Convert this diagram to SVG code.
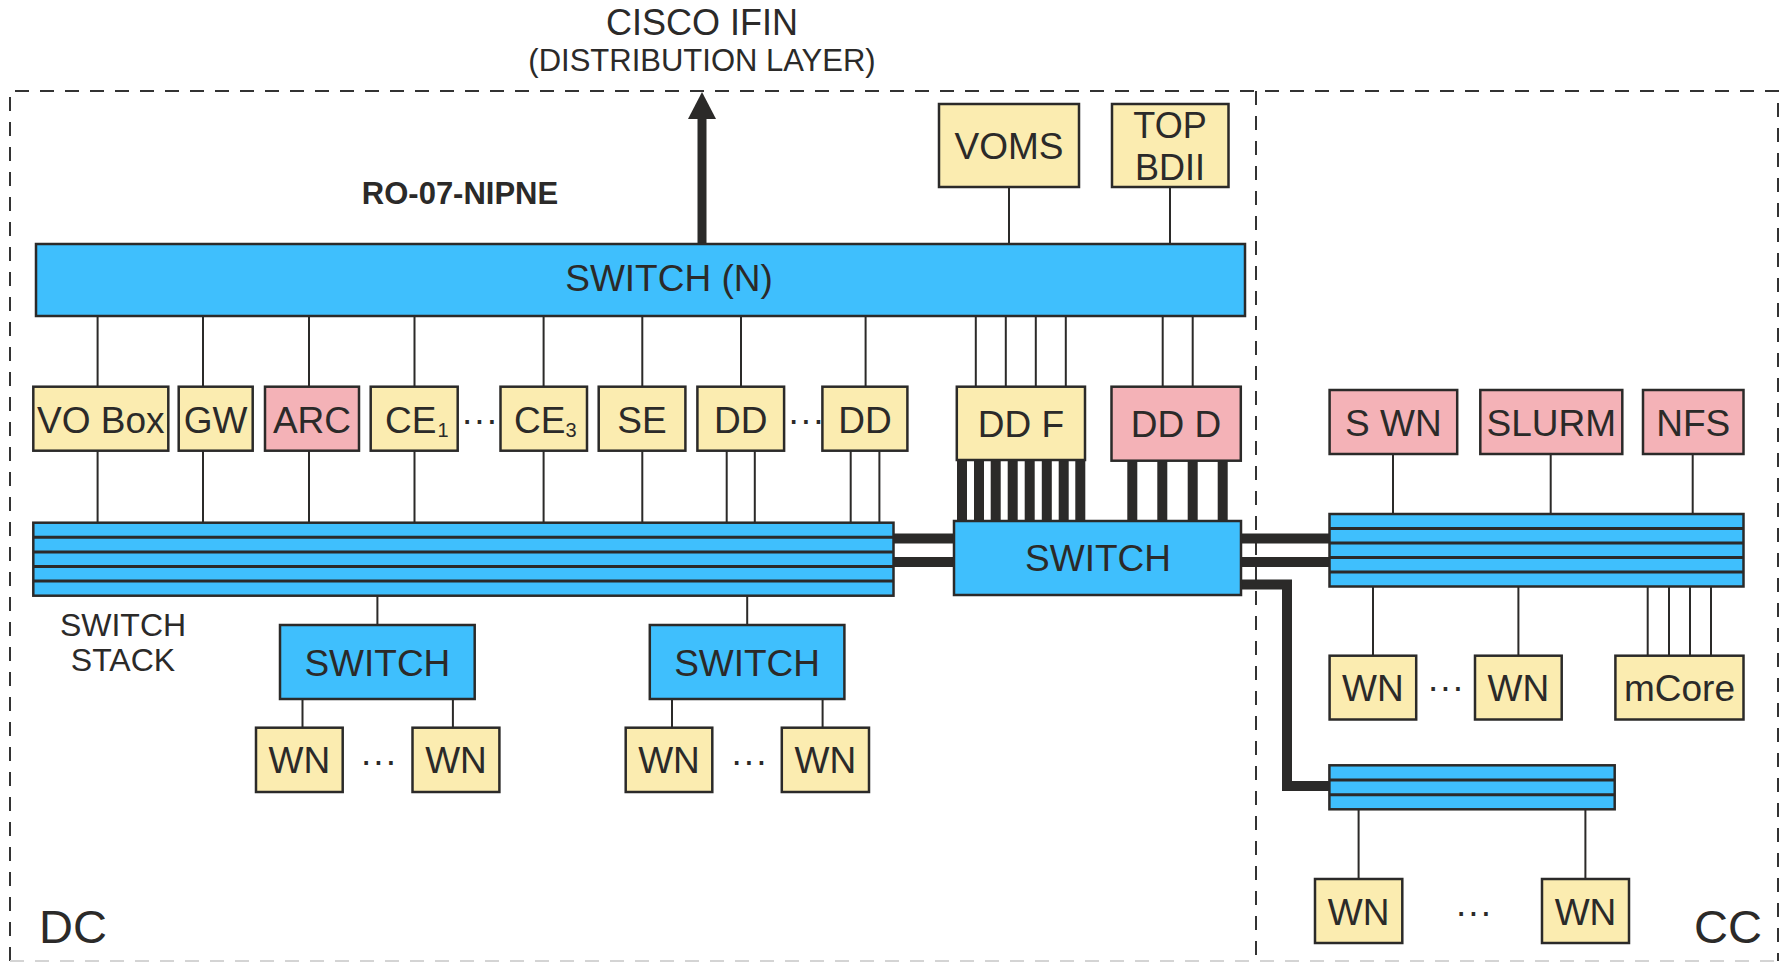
<svg xmlns="http://www.w3.org/2000/svg" width="1785" height="962" viewBox="0 0 1785 962">
<style>
text{font-family:"Liberation Sans",Arial,sans-serif;fill:#2b2a29}
.t{font-size:37px;text-anchor:middle}
.y{fill:#fbecb0;stroke:#2b2a29;stroke-width:2.5}
.p{fill:#f4b2b7;stroke:#2b2a29;stroke-width:2.5}
.b{fill:#3fbffd;stroke:#2b2a29;stroke-width:2.5}
.ln{stroke:#2b2a29;stroke-width:2;fill:none}
.tk{stroke:#2b2a29;stroke-width:10;fill:none}
.sep{stroke:#2b2a29;stroke-width:3}
.dash{stroke:#333;stroke-width:2;stroke-dasharray:14 11;fill:none}
.dots{font-size:37px;text-anchor:middle}
</style>
<rect width="1785" height="962" fill="#fff"/>
<g id="frame">
<path class="dash" d="M10 961 V91 H1778 V961"/>
<path d="M10 961 H1778" stroke="#d4d4d4" stroke-width="2" stroke-dasharray="14 11"/>
<path class="dash" d="M1256 91 V961"/>
</g>
<g id="labels">
<text x="702" y="35" style="font-size:36px;text-anchor:middle">CISCO IFIN</text>
<text x="702" y="71" style="font-size:31px;text-anchor:middle">(DISTRIBUTION LAYER)</text>
<text x="460" y="204" style="font-size:31px;text-anchor:middle;font-weight:bold">RO-07-NIPNE</text>
<text x="123" y="636" style="font-size:32px;text-anchor:middle">SWITCH</text>
<text x="123" y="671" style="font-size:32px;text-anchor:middle">STACK</text>
<text x="39" y="943" style="font-size:47px">DC</text>
<text x="1762" y="943" style="font-size:47px;text-anchor:end">CC</text>
</g>
<g id="connectors">
<path d="M702 244 V116" stroke="#2b2a29" stroke-width="9"/>
<polygon points="702,92 688,119 716,119" fill="#2b2a29"/>
<path class="ln" d="M1009 187 V244 M1170 187 V244"/>
<path class="ln" d="M97.6 316 V387 M203 316 V387 M309 316 V387 M414.5 316 V387 M543.6 316 V387 M642.3 316 V387 M741 316 V387 M865.6 316 V387"/>
<path class="ln" d="M97.6 451 V523 M203 451 V523 M309 451 V523 M414.5 451 V523 M543.6 451 V523 M642.3 451 V523 M726.7 451 V523 M754.8 451 V523 M850.7 451 V523 M879.4 451 V523"/>
<path class="ln" d="M975.8 316 V387 M1005.8 316 V387 M1035.8 316 V387 M1065.8 316 V387 M1162.7 316 V387 M1192.7 316 V387"/>
<path class="tk" d="M962 460 V521 M979 460 V521 M995.7 460 V521 M1012.7 460 V521 M1029.7 460 V521 M1046.8 460 V521 M1063.7 460 V521 M1080.3 460 V521"/>
<path class="tk" d="M1132.3 460 V521 M1162.3 460 V521 M1192.7 460 V521 M1222.7 460 V521"/>
<path class="tk" d="M893 538.5 H955 M893 562 H955 M1241 538.5 H1330 M1241 562 H1330"/>
<path class="tk" d="M1241 584.5 H1287 V786 H1330"/>
<path class="ln" d="M377.4 596 V625 M747.2 596 V625"/>
<path class="ln" d="M302.5 699 V728 M452.9 699 V728 M672 699 V728 M822.6 699 V728"/>
<path class="ln" d="M1393 454 V514 M1550.7 454 V514 M1692.7 454 V514"/>
<path class="ln" d="M1373 586.5 V656 M1518.4 586.5 V656 M1647.7 586.5 V656 M1669 586.5 V656 M1690 586.5 V656 M1711 586.5 V656"/>
<path class="ln" d="M1358.6 809.3 V879 M1585.4 809.3 V879"/>
</g>
<g id="switch-n"><rect class="b" x="36" y="244" width="1209" height="72"/><text class="t" x="669" y="291">SWITCH (N)</text></g>
<g id="voms"><rect class="y" x="939" y="104" width="140" height="83"/><text class="t" x="1009" y="158.5">VOMS</text></g>
<g id="topbdii"><rect class="y" x="1112" y="104" width="116.5" height="83"/><text class="t" x="1170" y="138" style="font-size:36px">TOP</text><text class="t" x="1170" y="180" style="font-size:36px">BDII</text></g>
<g id="vobox"><rect class="y" x="33.3" y="386.7" width="135" height="64"/><text class="t" x="100.8" y="432.5">VO Box</text></g>
<g id="gw"><rect class="y" x="178.7" y="386.7" width="74" height="64"/><text class="t" x="215.7" y="432.5">GW</text></g>
<g id="arc"><rect class="p" x="265" y="386.7" width="94" height="64"/><text class="t" x="312" y="432.5">ARC</text></g>
<g id="ce1"><rect class="y" x="370.7" y="386.7" width="87" height="64"/><text x="385" y="432.5" style="font-size:37px">CE</text><text x="437.5" y="436.5" style="font-size:20px">1</text></g>
<text class="dots" x="479.5" y="432">···</text>
<g id="ce3"><rect class="y" x="500.5" y="386.7" width="86.5" height="64"/><text x="514" y="432.5" style="font-size:37px">CE</text><text x="565.5" y="436.5" style="font-size:20px">3</text></g>
<g id="se"><rect class="y" x="598.7" y="386.7" width="86.7" height="64"/><text class="t" x="642" y="432.5">SE</text></g>
<g id="dd1"><rect class="y" x="697.4" y="386.7" width="86.7" height="64"/><text class="t" x="740.8" y="432.5">DD</text></g>
<text class="dots" x="806" y="432">···</text>
<g id="dd2"><rect class="y" x="822.4" y="386.7" width="85" height="64"/><text class="t" x="865" y="432.5">DD</text></g>
<g id="ddf"><rect class="y" x="956.8" y="386.7" width="128.2" height="73.3"/><text class="t" x="1021" y="436.7">DD F</text></g>
<g id="ddd"><rect class="p" x="1111.5" y="386.7" width="129.3" height="74"/><text class="t" x="1176" y="436.7">DD D</text></g>
<g id="switch-stack-dc"><rect class="b" x="33.3" y="522.7" width="860.2" height="73"/><path class="sep" d="M33.3 537.3 H893.5 M33.3 551.9 H893.5 M33.3 566.5 H893.5 M33.3 581.1 H893.5"/></g>
<g id="switch-center"><rect class="b" x="954" y="521" width="287" height="74"/><text class="t" x="1098" y="570.7">SWITCH</text></g>
<g id="switch-a"><rect class="b" x="280" y="625" width="194.7" height="74"/><text class="t" x="377.4" y="676">SWITCH</text></g>
<g id="switch-b"><rect class="b" x="649.8" y="625" width="194.6" height="74"/><text class="t" x="747.1" y="676">SWITCH</text></g>
<g id="wn-a1"><rect class="y" x="256" y="727.7" width="86.7" height="64.3"/><text class="t" x="299.3" y="773">WN</text></g>
<text class="dots" x="378.5" y="773">···</text>
<g id="wn-a2"><rect class="y" x="412.5" y="727.7" width="86.9" height="64.3"/><text class="t" x="456" y="773">WN</text></g>
<g id="wn-b1"><rect class="y" x="625.7" y="727.7" width="86.6" height="64.3"/><text class="t" x="669" y="773">WN</text></g>
<text class="dots" x="749" y="773">···</text>
<g id="wn-b2"><rect class="y" x="781.8" y="727.7" width="87.2" height="64.3"/><text class="t" x="825.4" y="773">WN</text></g>
<g id="swn"><rect class="p" x="1329.6" y="390" width="127.6" height="64"/><text class="t" x="1393.4" y="435.5">S WN</text></g>
<g id="slurm"><rect class="p" x="1480.3" y="390" width="142" height="64"/><text class="t" x="1551.3" y="435.5">SLURM</text></g>
<g id="nfs"><rect class="p" x="1643" y="390" width="100.5" height="64"/><text class="t" x="1693.3" y="435.5">NFS</text></g>
<g id="switch-stack-cc"><rect class="b" x="1329.5" y="514" width="414" height="72.5"/><path class="sep" d="M1329.5 528.5 H1743.5 M1329.5 543 H1743.5 M1329.5 557.5 H1743.5 M1329.5 572 H1743.5"/></g>
<g id="wn-c1"><rect class="y" x="1329.6" y="655.7" width="86.6" height="63.8"/><text class="t" x="1372.9" y="701">WN</text></g>
<text class="dots" x="1445.5" y="699">···</text>
<g id="wn-c2"><rect class="y" x="1475" y="655.7" width="86.7" height="63.8"/><text class="t" x="1518.4" y="701">WN</text></g>
<g id="mcore"><rect class="y" x="1615.4" y="655.7" width="128.1" height="63.8"/><text class="t" x="1679.5" y="701">mCore</text></g>
<g id="switch-stack-cc2"><rect class="b" x="1329.4" y="765.3" width="285.3" height="44"/><path class="sep" d="M1329.4 780 H1614.7 M1329.4 794.7 H1614.7"/></g>
<g id="wn-d1"><rect class="y" x="1315" y="879" width="87.3" height="64"/><text class="t" x="1358.6" y="924.5">WN</text></g>
<text class="dots" x="1473.5" y="924">···</text>
<g id="wn-d2"><rect class="y" x="1542" y="879" width="87" height="64"/><text class="t" x="1585.5" y="924.5">WN</text></g>
</svg>
